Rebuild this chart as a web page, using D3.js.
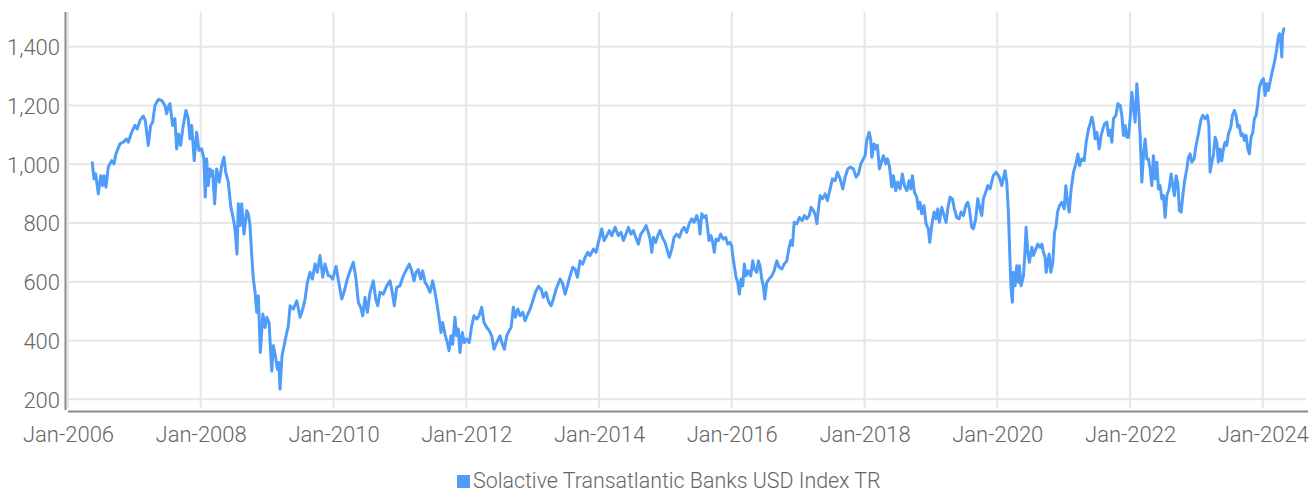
<!DOCTYPE html>
<html>
<head>
<meta charset="utf-8">
<script src="https://cdn.jsdelivr.net/npm/d3@7"></script>
<style>
  html, body { margin: 0; padding: 0; background: #ffffff; }
  svg { display: block; }
  text { font-family: Roboto, "Noto Sans", sans-serif; font-weight: 300; fill: #666666; }
</style>
</head>
<body>
<svg id="chart" width="1316" height="494"></svg>
<script>
// ---- DATA ----
const seriesName = "Solactive Transatlantic Banks USD Index TR";
// observation time as decimal years
const years = [
2006.366,2006.392,2006.417,2006.457,2006.493,2006.523,2006.542,2006.573,2006.607,2006.658,2006.693,2006.723,2006.783,2006.833,2006.884,2006.909,2006.960,
2007.009,2007.044,2007.085,2007.135,2007.165,2007.210,2007.246,2007.276,2007.311,2007.361,2007.412,2007.461,2007.487,2007.511,2007.537,2007.577,2007.612,2007.638,2007.668,2007.698,2007.737,2007.778,2007.813,2007.838,2007.864,2007.903,2007.939,2007.974,
2008.014,2008.049,2008.069,2008.090,2008.114,2008.140,2008.165,2008.180,2008.210,2008.240,2008.280,2008.316,2008.350,2008.376,2008.415,2008.451,2008.491,2008.516,2008.546,2008.566,2008.592,2008.617,2008.652,2008.692,2008.717,2008.742,2008.768,2008.792,2008.818,2008.843,2008.867,2008.897,2008.934,2008.968,2008.994,
2009.028,2009.069,2009.093,2009.123,2009.154,2009.175,2009.194,2009.224,2009.254,2009.295,2009.319,2009.345,2009.395,2009.446,2009.496,2009.536,2009.571,2009.606,2009.646,2009.681,2009.722,2009.756,2009.797,2009.838,2009.872,2009.922,2009.948,2009.988,
2010.038,2010.088,2010.124,2010.158,2010.208,2010.249,2010.299,2010.339,2010.374,2010.410,2010.440,2010.475,2010.510,2010.550,2010.600,2010.636,2010.666,2010.701,2010.751,2010.802,2010.852,2010.886,2010.916,2010.953,
2011.002,2011.052,2011.103,2011.142,2011.179,2011.213,2011.243,2011.278,2011.314,2011.344,2011.379,2011.414,2011.454,2011.495,2011.530,2011.564,2011.594,2011.620,2011.646,2011.680,2011.715,2011.741,2011.771,2011.796,2011.831,2011.856,2011.881,2011.906,2011.941,2011.971,
2012.007,2012.046,2012.083,2012.117,2012.158,2012.193,2012.233,2012.268,2012.309,2012.348,2012.384,2012.419,2012.459,2012.509,2012.544,2012.574,2012.610,2012.645,2012.675,2012.709,2012.739,2012.776,2012.810,2012.851,2012.886,2012.926,2012.961,
2013.002,2013.041,2013.086,2013.127,2013.161,2013.202,2013.243,2013.277,2013.312,2013.353,2013.413,2013.454,2013.488,2013.523,2013.564,2013.604,2013.639,2013.674,2013.714,2013.755,2013.790,2013.830,2013.865,2013.915,2013.955,2013.990,
2014.041,2014.076,2014.117,2014.156,2014.192,2014.242,2014.291,2014.332,2014.367,2014.407,2014.442,2014.483,2014.517,2014.553,2014.593,2014.629,2014.668,2014.709,2014.743,2014.769,2014.795,2014.819,2014.855,2014.885,2014.920,2014.954,2014.995,
2015.030,2015.060,2015.096,2015.131,2015.171,2015.211,2015.247,2015.281,2015.322,2015.357,2015.397,2015.432,2015.473,2015.507,2015.522,2015.548,2015.583,2015.613,2015.632,2015.658,2015.688,2015.713,2015.738,2015.763,2015.798,2015.834,2015.873,2015.909,2015.940,2015.974,
2016.000,2016.015,2016.039,2016.065,2016.090,2016.115,2016.140,2016.166,2016.190,2016.215,2016.250,2016.286,2016.316,2016.341,2016.377,2016.401,2016.426,2016.452,2016.476,2016.497,2016.527,2016.562,2016.603,2016.637,2016.678,2016.713,2016.753,2016.788,2016.829,2016.863,2016.889,2016.913,2016.939,2016.979,
2017.018,2017.059,2017.094,2017.130,2017.165,2017.195,2017.230,2017.260,2017.281,2017.305,2017.330,2017.365,2017.406,2017.440,2017.481,2017.516,2017.556,2017.591,2017.631,2017.672,2017.707,2017.748,2017.782,2017.832,2017.873,2017.908,2017.944,2017.983,
2018.008,2018.034,2018.069,2018.094,2018.109,2018.144,2018.174,2018.194,2018.224,2018.260,2018.284,2018.320,2018.344,2018.374,2018.411,2018.435,2018.471,2018.501,2018.536,2018.570,2018.601,2018.637,2018.671,2018.697,2018.721,2018.751,2018.787,2018.811,2018.837,2018.862,2018.897,2018.927,2018.962,2018.983,
2019.013,2019.048,2019.078,2019.104,2019.128,2019.164,2019.199,2019.229,2019.254,2019.289,2019.324,2019.354,2019.390,2019.425,2019.455,2019.490,2019.526,2019.556,2019.580,2019.616,2019.640,2019.676,2019.706,2019.741,2019.767,2019.791,2019.827,2019.857,2019.892,2019.941,2019.982,
2020.032,2020.068,2020.118,2020.143,2020.168,2020.193,2020.208,2020.228,2020.243,2020.268,2020.294,2020.318,2020.333,2020.359,2020.394,2020.414,2020.434,2020.460,2020.484,2020.520,2020.544,2020.580,2020.610,2020.645,2020.671,2020.695,2020.720,2020.736,2020.761,2020.781,2020.806,2020.836,2020.861,2020.886,2020.906,2020.936,2020.972,
2021.007,2021.032,2021.057,2021.082,2021.112,2021.147,2021.183,2021.213,2021.238,2021.273,2021.308,2021.338,2021.373,2021.398,2021.424,2021.448,2021.474,2021.499,2021.534,2021.564,2021.590,2021.614,2021.650,2021.674,2021.700,2021.725,2021.750,2021.786,2021.816,2021.851,2021.876,2021.900,2021.926,2021.951,2021.976,
2022.001,2022.027,2022.051,2022.076,2022.102,2022.126,2022.152,2022.177,2022.201,2022.227,2022.252,2022.277,2022.302,2022.328,2022.352,2022.378,2022.403,2022.428,2022.453,2022.479,2022.503,2022.528,2022.554,2022.589,2022.619,2022.644,2022.669,2022.694,2022.720,2022.744,2022.770,2022.795,2022.819,2022.855,2022.880,2022.905,2022.931,2022.965,2022.995,
2023.030,2023.066,2023.096,2023.131,2023.166,2023.187,2023.207,2023.232,2023.256,2023.282,2023.307,2023.331,2023.357,2023.382,2023.407,2023.432,2023.458,2023.482,2023.518,2023.543,2023.573,2023.598,2023.624,2023.648,2023.673,2023.699,2023.723,2023.749,2023.774,2023.798,2023.824,2023.850,2023.874,2023.899,2023.925,2023.949,2023.985,
2024.010,2024.035,2024.061,2024.085,2024.110,2024.136,2024.160,2024.186,2024.211,2024.235,2024.251,2024.272,2024.287,2024.296,2024.317
];
const values = [
1005,950,967,899,961,927,961,922,990,1012,1001,1035,1069,1075,1086,1075,1109,
1132,1120,1149,1164,1149,1064,1132,1143,1200,1220,1217,1200,1172,1194,1206,1132,1155,1052,1103,1064,1132,1183,1155,1086,1132,1012,1109,1047,
1052,1018,888,1018,927,984,961,978,865,984,939,995,1024,973,939,859,814,780,694,865,791,865,762,842,831,791,689,609,564,496,552,359,490,444,479,
461,296,382,348,302,325,234,348,382,427,450,518,507,535,479,507,541,598,632,609,660,632,689,615,660,620,620,609,
652,586,541,564,609,637,666,609,530,513,484,547,496,564,603,541,518,564,558,586,603,564,518,581,
586,620,643,660,637,603,632,641,609,637,598,586,564,603,564,518,473,427,461,422,393,365,416,387,479,416,439,359,427,393,
405,393,450,484,473,484,513,461,444,433,416,370,393,416,387,370,416,433,444,513,479,507,484,496,467,490,507,
535,564,584,575,547,564,530,518,541,575,609,592,558,586,620,649,643,615,671,660,683,700,689,711,700,734,
780,740,757,774,757,785,757,768,740,762,785,762,774,751,728,762,774,791,768,745,700,751,734,757,774,751,734,
706,683,711,751,762,751,774,785,768,797,814,802,825,797,762,831,819,825,791,740,757,734,700,745,740,762,745,751,728,734,
723,689,654,615,598,558,609,586,660,620,637,620,671,643,632,671,654,609,586,541,598,609,620,637,671,649,643,660,671,717,740,723,802,797,
819,808,825,814,825,853,842,825,797,848,893,882,899,876,916,950,944,973,950,916,956,984,990,984,956,967,1001,1018,
1029,1081,1109,1081,1024,1069,1052,1064,984,1012,1029,1001,1018,995,922,961,910,939,916,967,927,910,944,916,961,905,888,848,870,831,859,797,780,734,
791,837,814,848,802,853,825,802,848,888,882,848,819,814,837,825,859,870,848,785,780,814,882,848,825,882,905,927,916,961,973,
956,927,978,939,837,666,575,530,632,586,654,598,654,586,620,689,785,700,666,717,689,711,728,717,728,700,683,632,666,694,632,666,768,791,837,859,870,
848,927,870,837,916,973,1001,1035,995,1018,1012,1075,1120,1137,1160,1137,1086,1109,1052,1098,1120,1137,1143,1098,1115,1075,1155,1166,1206,1200,1166,1098,1132,1092,1092,
1155,1245,1189,1143,1274,1200,1098,939,1029,1086,1018,1018,984,927,1029,950,1007,916,927,882,893,819,893,916,967,927,893,961,933,842,837,893,939,984,1024,1035,1007,1018,1064,
1103,1149,1166,1155,1166,1132,973,1007,1029,1092,1075,1007,1052,1012,1052,1075,1064,1103,1126,1166,1183,1166,1126,1132,1098,1103,1081,1098,1052,1035,1092,1109,1155,1166,1206,1262,1285,
1291,1234,1274,1251,1280,1308,1331,1359,1393,1433,1444,1416,1365,1438,1461
];
const yTicks = [200, 400, 600, 800, 1000, 1200, 1400];
const xTickYears = [2006, 2008, 2010, 2012, 2014, 2016, 2018, 2020, 2022, 2024];

// ---- helpers ----
function yearToDate(y) {
  const yr = Math.floor(y);
  const start = Date.UTC(yr, 0, 1), end = Date.UTC(yr + 1, 0, 1);
  return new Date(start + (y - yr) * (end - start));
}
const data = years.map((y, i) => ({ date: yearToDate(y), value: values[i] }));

const svg = d3.select("#chart");
const plotLeft = 68, plotRight = 1308, plotTop = 12, plotBottom = 411;

const x = d3.scaleUtc()
  .domain([new Date(Date.UTC(2006, 0, 1)), new Date(Date.UTC(2024, 8, 6))])
  .range([plotLeft, plotRight]);
const y = d3.scaleLinear()
  .domain([160, 1518])
  .range([plotBottom, plotTop]);

const fmt = d3.utcFormat("%b-%Y");
const xTickDates = xTickYears.map(yr => new Date(Date.UTC(yr, 0, 1)));

// gridlines
const grid = svg.append("g");
grid.selectAll("line.h").data(yTicks).enter().append("line")
  .attr("x1", plotLeft).attr("x2", plotRight - 2)
  .attr("y1", d => y(d)).attr("y2", d => y(d))
  .attr("stroke", "#e6e6e6").attr("stroke-width", 2);
grid.selectAll("line.v").data(xTickDates).enter().append("line")
  .attr("x1", d => x(d)).attr("x2", d => x(d))
  .attr("y1", plotTop).attr("y2", plotBottom - 3)
  .attr("stroke", "#e6e6e6").attr("stroke-width", 2);

// y axis
const yAxis = d3.axisLeft(y).tickValues(yTicks).tickSize(0).tickPadding(7)
  .tickFormat(d3.format(","));
const gy = svg.append("g").attr("transform", `translate(${plotLeft - 1},0)`).call(yAxis);
gy.select(".domain").remove();
gy.selectAll("text").attr("font-size", 22).attr("fill", "#626262").attr("font-family", "Roboto").attr("font-weight", 300)
  .attr("dy", "0.36em");
svg.append("line").attr("x1", 65.5).attr("x2", 65.5).attr("y1", plotTop).attr("y2", 410)
  .attr("stroke", "#8a8a8a").attr("stroke-width", 2);

// x axis
const xAxis = d3.axisBottom(x).tickValues(xTickDates).tickSize(0).tickPadding(15).tickFormat(fmt);
const gx = svg.append("g").attr("transform", `translate(0,${plotBottom})`).call(xAxis);
gx.select(".domain").remove();
gx.selectAll("text").attr("font-size", 22).attr("fill", "#626262").attr("font-family", "Roboto").attr("font-weight", 300);
svg.append("line").attr("x1", plotLeft).attr("x2", plotRight).attr("y1", 411.5).attr("y2", 411.5)
  .attr("stroke", "#8a8a8a").attr("stroke-width", 2);

// line
const line = d3.line().x(d => x(d.date)).y(d => y(d.value));
svg.append("path").datum(data)
  .attr("fill", "none").attr("stroke", "#4f9cf9").attr("stroke-width", 3)
  .attr("stroke-linejoin", "round").attr("stroke-linecap", "round")
  .attr("d", line);

// legend
const lg = svg.append("g").attr("transform", "translate(457,475)");
lg.append("rect").attr("width", 13).attr("height", 13).attr("fill", "#4f9cf9");
lg.append("text").attr("x", 16).attr("y", 13).attr("font-size", 21.4)
  .attr("fill", "#626262").text(seriesName);
</script>
</body>
</html>
